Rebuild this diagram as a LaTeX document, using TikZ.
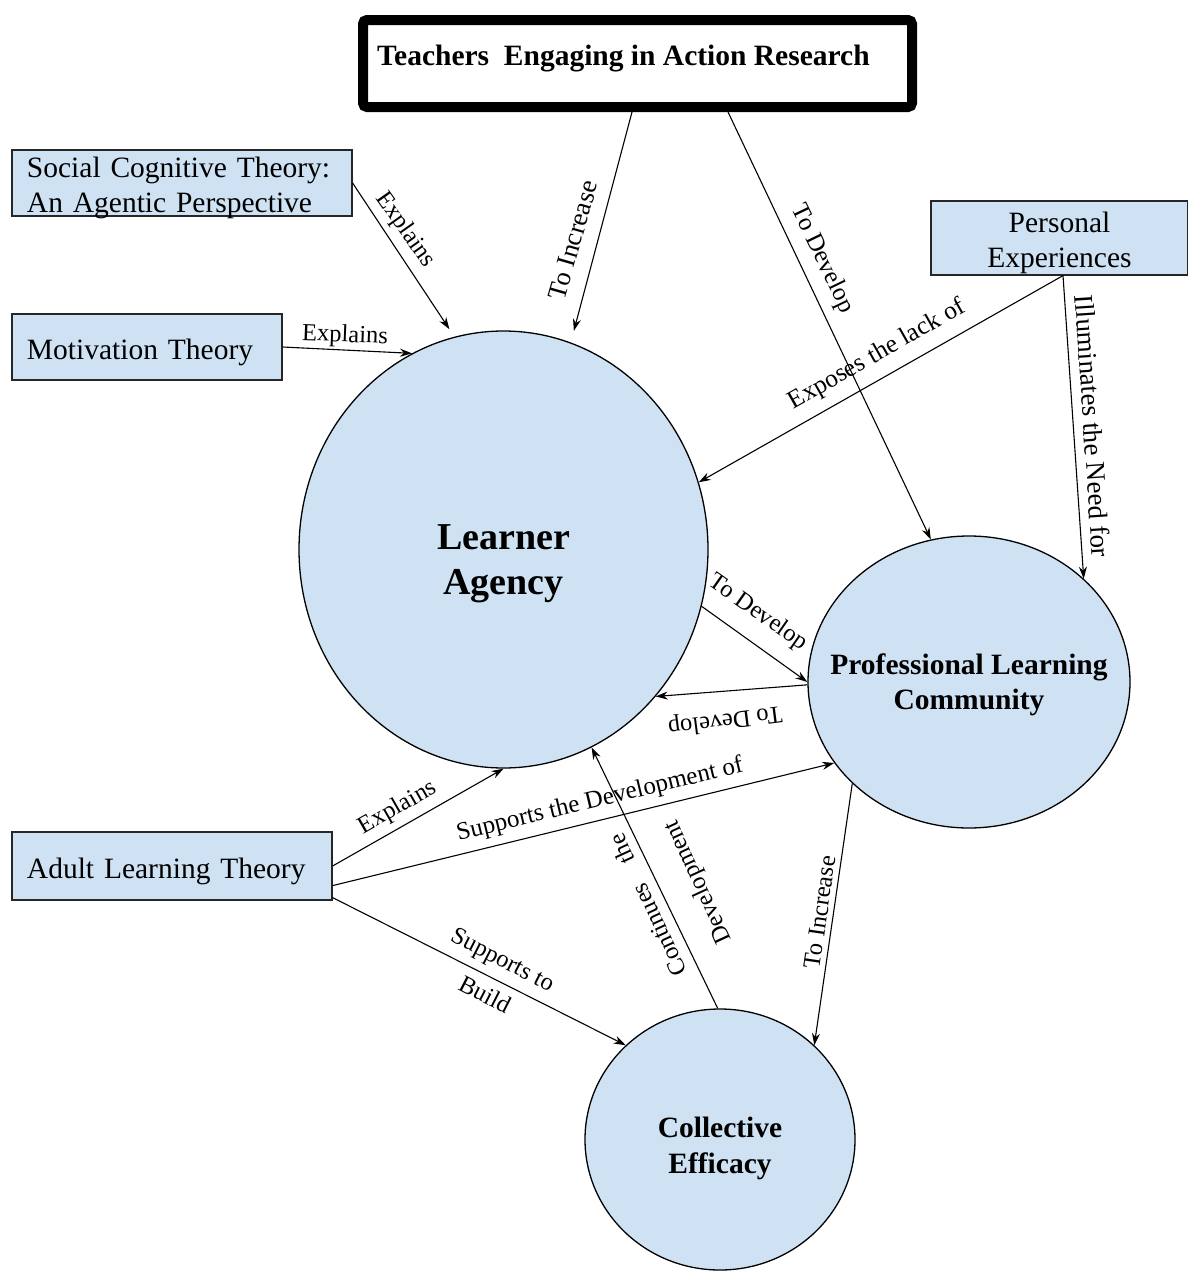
\documentclass[tikz,border=0pt]{standalone}
\usepackage{fontspec}
\setmainfont{Liberation Serif}
\usetikzlibrary{arrows.meta,shapes.geometric}
\definecolor{lblue}{HTML}{CFE2F3}
\newcommand\myzw[2]{\makebox[0pt]{\raisebox{#1}[\height][\depth]{#2}}}
\newcommand\mydn[1]{\raisebox{-5pt}[\height][\depth]{#1}}
\begin{document}
\begin{tikzpicture}[x=1pt,y=-1pt,
  box/.style={draw=black!85, line width=1.2pt, fill=lblue, rectangle, inner ysep=0pt, inner xsep=15pt, font=\fontsize{29.5}{34.5}\selectfont},
  circ/.style={ellipse, draw=black, line width=1.3pt, fill=lblue, inner sep=0pt, align=center},
  conn/.style={-{Stealth[length=12pt,width=8pt]}, line width=1.1pt},
  lbl/.style={font=\fontsize{24.5}{30}\selectfont, inner sep=0pt, align=center}]
\useasboundingbox (0,0) rectangle (1188,1274);
\fill[white] (0,0) rectangle (1188,1274);

% nodes
\node[draw=black, line width=10pt, rounded corners=4pt, fill=white, minimum width=549pt, minimum height=87pt, inner sep=0pt] (title) at (637.5,63.5) {};
\node[anchor=west, inner sep=0pt, font=\bfseries\fontsize{29.5}{34}\selectfont] (titletext) at (377,59) {Teachers\ \ Engaging in Action Research};

\node[box, text width=310pt, minimum height=66pt, align=left] (sct) at (182,183) {\mydn{Social Cognitive Theory:}\\\mydn{An Agentic Perspective}};
\node[box, text width=240pt, minimum height=66pt, align=left] (mt) at (147,347) {\mydn{Motivation Theory}};
\node[box, text width=227pt, minimum height=74pt, align=center] (pe) at (1059.5,238) {\mydn{Personal}\\\mydn{Experiences}};
\node[box, text width=290pt, minimum height=68pt, align=left] (alt) at (172,866) {\mydn{Adult Learning Theory}};

\node[circ, minimum width=409pt, minimum height=437pt, font=\bfseries\fontsize{38}{45}\selectfont] (la) at (503.5,549.5) {\myzw{-14pt}{Learner}\\\myzw{-14pt}{Agency}};
\node[circ, minimum width=322pt, minimum height=292pt, font=\bfseries\fontsize{29.5}{35}\selectfont] (plc) at (969,682) {\myzw{-3pt}{Professional Learning}\\\myzw{-3pt}{Community}};
\node[circ, minimum width=270pt, minimum height=261pt, font=\bfseries\fontsize{29.5}{36}\selectfont] (ce) at (720,1139.5) {\myzw{-8.5pt}{Collective}\\\myzw{-8.5pt}{Efficacy}};

% connectors
\draw[conn, shorten >=12pt] ([xshift=-5.5pt]title.south) -- (la.72.6);
\draw[conn] ([xshift=90.5pt]title.south) -- (plc.105.4);
\draw[conn, shorten >=9pt] (sct.east) -- (la.103);
\draw[conn] (mt.east) -- (la.115.4);
\draw[conn] ([xshift=3.5pt]pe.south) -- (la.19.8);
\draw[conn] ([xshift=3.5pt]pe.south) -- (plc.42.4);
\draw[conn] (la.-16.5) -- (plc.180);
\draw[conn] (plc.181.5) -- (la.-44.4);
\draw[conn] (alt.east) -- (la.-90);
\draw[conn] ([yshift=15pt]alt.south east) -- (plc.211.2);
\draw[conn] ([yshift=3pt]alt.south east) -- (ce.135.8);
\draw[conn] (ce.91) -- (la.-66.9);
\draw[conn] (plc.221.9) -- (ce.45.5);

% labels
\node[lbl, rotate=74, font=\fontsize{26.5}{30}\selectfont] (l1) at (573,240) {To Increase};
\node[lbl, rotate=-64.2, font=\fontsize{25}{30}\selectfont] (l2) at (822,259) {To Develop};
\node[lbl, rotate=-54.7] (l3) at (405,230) {Explains};
\node[lbl, rotate=-2.2] (l4) at (345,336) {Explains};
\node[lbl, rotate=29.5, font=\fontsize{25.5}{30}\selectfont] (l5) at (877,355) {Exposes the lack of};
\node[lbl, rotate=-86.2, font=\fontsize{27}{30}\selectfont] (l6) at (1093,426) {Illuminates the Need for};
\node[lbl, rotate=-35] (l7) at (758,613) {To Develop};
\node[lbl, rotate=187.3] (l8) at (725,720) {To Develop};
\node[lbl, rotate=29.8] (l9) at (398,808) {Explains};
\node[lbl, rotate=13.5, font=\fontsize{25}{30}\selectfont] (l10) at (600,800) {Supports the Development of};
\node[lbl, rotate=-27.1, font=\fontsize{24.5}{40}\selectfont] (l11) at (494,977) {Supports to\\Build};
\node[lbl, rotate=114.8, font=\fontsize{24.5}{54}\selectfont] (l12) at (674,893) {Continues\quad the\\Development};
\node[lbl, rotate=81.8] (l13) at (820,912) {To Increase};
\end{tikzpicture}
\end{document}
